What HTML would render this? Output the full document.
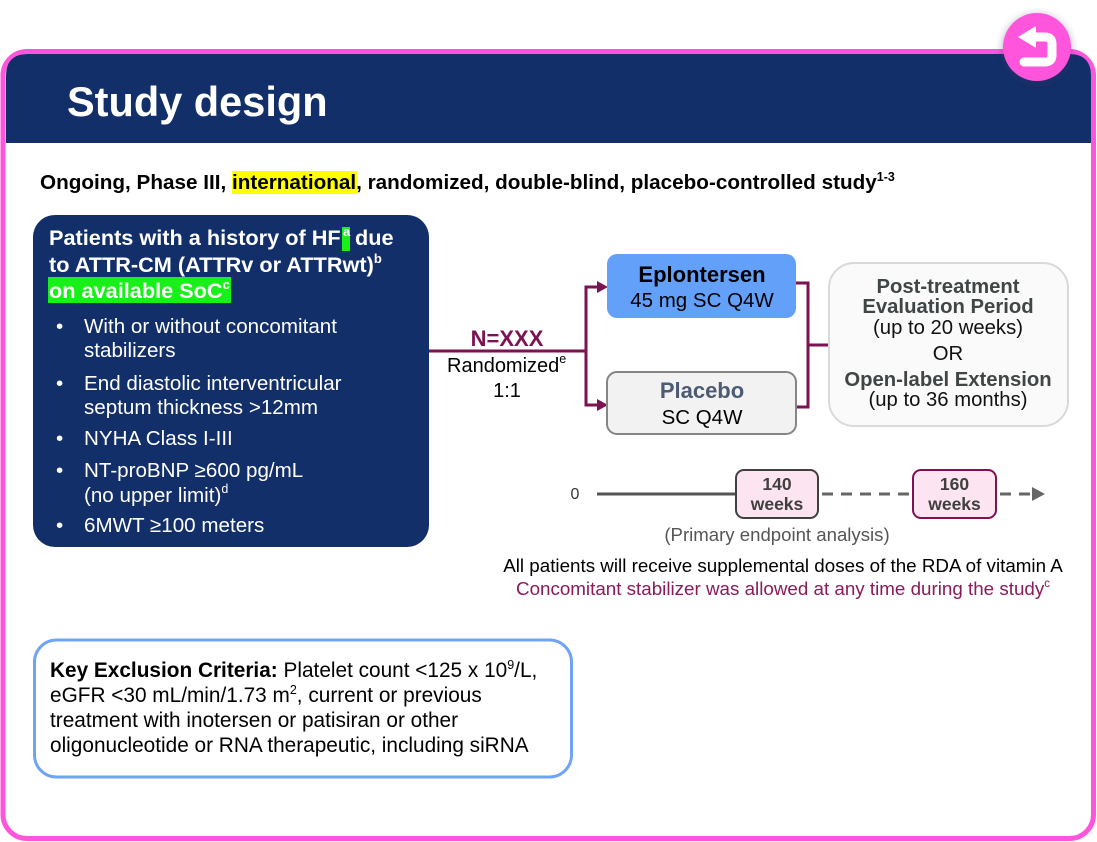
<!DOCTYPE html>
<html><head><meta charset="utf-8"><style>
html,body{margin:0;padding:0;background:#fff;}
svg{display:block;font-family:"Liberation Sans",Arial,sans-serif;}
</style></head><body>
<svg width="1097" height="842" viewBox="0 0 1097 842" xmlns="http://www.w3.org/2000/svg">
<defs>
<filter id="sh" x="-50%" y="-50%" width="200%" height="200%"><feDropShadow dx="0" dy="2" stdDeviation="4" flood-color="#3a2a60" flood-opacity="0.45"/></filter>
</defs>
<rect x="0" y="0" width="1097" height="842" fill="#fff"/>
<!-- outer pink frame -->
<rect x="3" y="51.5" width="1090.5" height="787" rx="24" fill="#fff" stroke="#ff55dd" stroke-width="5"/>
<!-- header -->
<path d="M6,143 V76 Q6,54 28,54 H1069 Q1091,54 1091,76 V143 Z" fill="#122f69"/>
<text x="67" y="116" font-size="41.5" font-weight="bold" fill="#fff">Study design</text>
<!-- return button -->
<circle cx="1037" cy="47" r="34" fill="#ff55dd" filter="url(#sh)"/>
<path d="M1034,37 H1045 Q1052,37 1052,44 V55 Q1052,62 1045,62 H1024" fill="none" stroke="#fff" stroke-width="9" stroke-linecap="round" stroke-linejoin="round"/>
<polygon points="1018,37 1036,26 1036,48" fill="#fff"/>

<!-- subtitle -->
<rect x="232" y="171" width="125" height="23" fill="#ffff00"/>
<text x="40" y="189" font-size="20.7" font-weight="bold" fill="#000">Ongoing, Phase III, international, randomized, double-blind, placebo-controlled study<tspan font-size="12.5" dy="-8">1-3</tspan></text>

<!-- left criteria box -->
<rect x="33" y="215" width="396" height="332" rx="22" fill="#122f69"/>
<rect x="342" y="227" width="8" height="24" fill="#19f019"/>
<rect x="48" y="277" width="183" height="26" fill="#19f019"/>
<g font-size="21.7" font-weight="bold" fill="#fff">
<text x="49" y="245">Patients with a history of HF</text>
<text x="343" y="236" font-size="13">a</text>
<text x="355" y="245">due</text>
<text x="49" y="272">to ATTR-CM (ATTRv or ATTRwt)<tspan font-size="13" dy="-9">b</tspan></text>
<text x="49" y="298">on available SoC<tspan font-size="13" dy="-9">c</tspan></text>
</g>
<g font-size="20.6" fill="#fff">
<text x="56" y="333">•</text>
<text x="84" y="333">With or without concomitant</text>
<text x="84" y="357">stabilizers</text>
<text x="56" y="390">•</text>
<text x="84" y="390">End diastolic interventricular</text>
<text x="84" y="414">septum thickness &gt;12mm</text>
<text x="56" y="445">•</text>
<text x="84" y="445">NYHA Class I-III</text>
<text x="56" y="477">•</text>
<text x="84" y="477">NT-proBNP ≥600 pg/mL</text>
<text x="84" y="502">(no upper limit)<tspan font-size="12.5" dy="-9">d</tspan></text>
<text x="56" y="532">•</text>
<text x="84" y="532">6MWT ≥100 meters</text>
</g>

<!-- randomization connector -->
<g stroke="#7b1252" stroke-width="3" fill="none">
<path d="M429,351 H586"/>
<path d="M586,287 V405"/>
<path d="M584.5,287 H599"/>
<path d="M584.5,405 H599"/>
<path d="M796,283 H808 V407 H796"/>
<path d="M808,345 H830"/>
</g>
<polygon points="597,281 608,287 597,293" fill="#7b1252"/>
<polygon points="597,399 608,405 597,411" fill="#7b1252"/>
<text x="507" y="346" font-size="22" font-weight="bold" fill="#7b1252" text-anchor="middle">N=XXX</text>
<text x="447" y="372" font-size="20" fill="#000">Randomized<tspan font-size="12.5" dy="-9">e</tspan></text>
<text x="507" y="397" font-size="20" fill="#000" text-anchor="middle">1:1</text>

<!-- arms -->
<rect x="607" y="254" width="189" height="64" rx="10" fill="#62a0fa"/>
<text x="702" y="282" font-size="22" font-weight="bold" fill="#000" text-anchor="middle">Eplontersen</text>
<text x="702" y="307" font-size="20.5" fill="#000" text-anchor="middle">45 mg SC Q4W</text>
<rect x="607" y="372" width="189" height="62" rx="10" fill="#f2f2f2" stroke="#858585" stroke-width="2"/>
<text x="702" y="398" font-size="22" font-weight="bold" fill="#4c5a73" text-anchor="middle">Placebo</text>
<text x="702" y="424" font-size="20.5" fill="#000" text-anchor="middle">SC Q4W</text>

<!-- post-treatment box -->
<rect x="829" y="263" width="239" height="163" rx="25" fill="#fafafa" stroke="#d9d9d9" stroke-width="2"/>
<g font-size="20.3" text-anchor="middle">
<text x="948" y="293" font-weight="bold" fill="#404545">Post-treatment</text>
<text x="948" y="313" font-weight="bold" fill="#404545">Evaluation Period</text>
<text x="948" y="334" fill="#111">(up to 20 weeks)</text>
<text x="948" y="360" fill="#111">OR</text>
<text x="948" y="386" font-weight="bold" fill="#404545">Open-label Extension</text>
<text x="948" y="406" fill="#111">(up to 36 months)</text>
</g>

<!-- timeline -->
<text x="575" y="499" font-size="16" fill="#333" text-anchor="middle">0</text>
<path d="M597,494 H736" stroke="#555" stroke-width="3"/>
<path d="M819,494 H913" stroke="#666" stroke-width="3" stroke-dasharray="11,8" stroke-dashoffset="-3"/>
<path d="M997,494 H1034" stroke="#666" stroke-width="3" stroke-dasharray="11,8" stroke-dashoffset="-3"/>
<polygon points="1032,487 1045,494 1032,501" fill="#666"/>
<rect x="736" y="470" width="82" height="48" rx="8" fill="#fce4f0" stroke="#404040" stroke-width="2"/>
<rect x="913" y="470" width="83" height="48" rx="8" fill="#fce4f0" stroke="#7b1252" stroke-width="2"/>
<g font-size="17.5" font-weight="bold" fill="#404040" text-anchor="middle">
<text x="777" y="490">140</text>
<text x="777" y="510">weeks</text>
<text x="954.5" y="490">160</text>
<text x="954.5" y="510">weeks</text>
</g>
<text x="777" y="541" font-size="18.6" fill="#555" text-anchor="middle">(Primary endpoint analysis)</text>
<text x="783" y="572" font-size="18.8" fill="#000" text-anchor="middle">All patients will receive supplemental doses of the RDA of vitamin A</text>
<text x="516" y="595" font-size="18.8" fill="#8a1a5a">Concomitant stabilizer was allowed at any time during the study<tspan font-size="11.5" dy="-8">c</tspan></text>

<!-- exclusion box -->
<rect x="34.5" y="640" width="537" height="137" rx="22" fill="#fff" stroke="#6fa3f5" stroke-width="3"/>
<g font-size="20.8" fill="#000">
<text x="50" y="677"><tspan font-weight="bold">Key Exclusion Criteria:</tspan> Platelet count &lt;125 x 10<tspan font-size="12.5" dy="-8">9</tspan><tspan dy="8">/L,</tspan></text>
<text x="50" y="702">eGFR &lt;30 mL/min/1.73 m<tspan font-size="12.5" dy="-8">2</tspan><tspan dy="8">, current or previous</tspan></text>
<text x="50" y="727">treatment with inotersen or patisiran or other</text>
<text x="50" y="752">oligonucleotide or RNA therapeutic, including siRNA</text>
</g>
</svg>
</body></html>
